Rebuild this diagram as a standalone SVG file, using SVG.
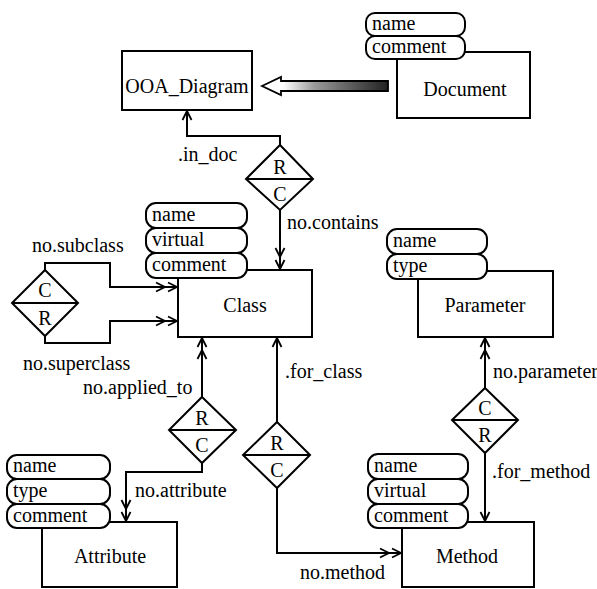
<svg xmlns="http://www.w3.org/2000/svg" width="597" height="589" viewBox="0 0 597 589">
<style>
.box{fill:#fff;stroke:#000;stroke-width:2}
.pill{fill:#fff;stroke:#000;stroke-width:2}
.dia{fill:#fff;stroke:#000;stroke-width:2}
.t{font-family:"Liberation Serif","Times New Roman",serif;font-size:20px;fill:#000}
.m{text-anchor:middle}
.con{fill:none;stroke:#000;stroke-width:2}
</style>
<defs>
<marker id="a1" markerUnits="userSpaceOnUse" markerWidth="12" markerHeight="12" viewBox="-11 -6 12 12" refX="0" refY="0" orient="auto">
<path d="M-9,-4.5 L0,0 L-9,4.5" fill="none" stroke="#000" stroke-width="1.8"/>
</marker>
<marker id="a2" markerUnits="userSpaceOnUse" markerWidth="24" markerHeight="12" viewBox="-23 -6 24 12" refX="0" refY="0" orient="auto">
<path d="M-9,-4.5 L0,0 L-9,4.5 M-21,-4.5 L-12,0 L-21,4.5" fill="none" stroke="#000" stroke-width="1.8"/>
</marker>
<linearGradient id="sh" x1="0" y1="0" x2="1" y2="0">
<stop offset="0" stop-color="#fff"/>
<stop offset="0.3" stop-color="#999"/>
<stop offset="1" stop-color="#222"/>
</linearGradient>
</defs>

<g id="connectors">
<path class="con" d="M280,145 V136 H187 V111" marker-end="url(#a1)"/>
<path class="con" d="M280,210 V269" marker-end="url(#a2)"/>
<path class="con" d="M45,270 V263 H110 V287 H177" marker-end="url(#a2)"/>
<path class="con" d="M45,336 V343 H110 V321 H177" marker-end="url(#a2)"/>
<path class="con" d="M202,397 V338" marker-end="url(#a2)"/>
<path class="con" d="M202,463 V472 H126 V521" marker-end="url(#a2)"/>
<path class="con" d="M277,422 V338" marker-end="url(#a1)"/>
<path class="con" d="M277,488 V553 H401" marker-end="url(#a2)"/>
<path class="con" d="M485,388 V338" marker-end="url(#a2)"/>
<path class="con" d="M485,453 V521" marker-end="url(#a1)"/>
<g id="inherit-arrow">
<rect x="283" y="81" width="105" height="10" fill="url(#sh)"/>
<polygon points="262,86 281,77 281,81 388,81 388,91 281,91 281,95" fill="none" stroke="#000" stroke-width="1.8"/>
</g>
</g>

<g id="OOA_Diagram">
<rect class="box" x="122" y="51" width="130" height="59"/>
<text class="t m" x="187" y="93">OOA_Diagram</text>
</g>

<g id="Document">
<rect class="box" x="397" y="52" width="133" height="66"/>
<rect class="pill" x="366" y="13" width="99" height="23" rx="9"/>
<rect class="pill" x="366" y="36" width="99" height="23" rx="9"/>
<text class="t" x="372" y="30">name</text>
<text class="t" x="372" y="53">comment</text>
<text class="t m" x="465" y="96">Document</text>
</g>

<g id="Class">
<rect class="box" x="178" y="270" width="134" height="67"/>
<rect class="pill" x="146" y="203" width="101" height="25" rx="10"/>
<rect class="pill" x="146" y="228" width="101" height="25" rx="10"/>
<rect class="pill" x="146" y="253" width="101" height="25" rx="10"/>
<text class="t" x="152" y="221">name</text>
<text class="t" x="152" y="246">virtual</text>
<text class="t" x="152" y="271">comment</text>
<text class="t m" x="245" y="312">Class</text>
</g>

<g id="Parameter">
<rect class="box" x="418" y="271" width="135" height="66"/>
<rect class="pill" x="387" y="229" width="100" height="25" rx="10"/>
<rect class="pill" x="387" y="254" width="100" height="25" rx="10"/>
<text class="t" x="393" y="247">name</text>
<text class="t" x="393" y="272">type</text>
<text class="t m" x="485" y="312">Parameter</text>
</g>

<g id="Attribute">
<rect class="box" x="42" y="522" width="135" height="65"/>
<rect class="pill" x="7" y="455" width="103" height="24" rx="10"/>
<rect class="pill" x="7" y="479" width="103" height="25" rx="10"/>
<rect class="pill" x="7" y="504" width="103" height="24" rx="10"/>
<text class="t" x="13" y="472">name</text>
<text class="t" x="13" y="497">type</text>
<text class="t" x="13" y="522">comment</text>
<text class="t m" x="110" y="563">Attribute</text>
</g>

<g id="Method">
<rect class="box" x="402" y="522" width="132" height="65"/>
<rect class="pill" x="368" y="454" width="100" height="25" rx="10"/>
<rect class="pill" x="368" y="479" width="100" height="25" rx="10"/>
<rect class="pill" x="368" y="504" width="100" height="24" rx="10"/>
<text class="t" x="374" y="472">name</text>
<text class="t" x="374" y="497">virtual</text>
<text class="t" x="374" y="522">comment</text>
<text class="t m" x="467" y="563">Method</text>
</g>

<g id="rel_in_doc">
<polygon class="dia" points="280,145 313,179 280,210 246,179"/>
<line x1="246" y1="179" x2="313" y2="179" stroke="#000" stroke-width="2"/>
<text class="t m" x="280" y="174">R</text>
<text class="t m" x="280" y="201">C</text>
</g>

<g id="rel_subclass">
<polygon class="dia" points="45,270 78,303 45,336 12,303"/>
<line x1="12" y1="303" x2="78" y2="303" stroke="#000" stroke-width="2"/>
<text class="t m" x="45" y="297">C</text>
<text class="t m" x="45" y="325">R</text>
</g>

<g id="rel_applied_to">
<polygon class="dia" points="202,397 236,430 202,463 169,430"/>
<line x1="169" y1="430" x2="236" y2="430" stroke="#000" stroke-width="2"/>
<text class="t m" x="202" y="425">R</text>
<text class="t m" x="202" y="452">C</text>
</g>

<g id="rel_for_class">
<polygon class="dia" points="277,422 310,455 277,488 243,455"/>
<line x1="243" y1="455" x2="310" y2="455" stroke="#000" stroke-width="2"/>
<text class="t m" x="277" y="450">R</text>
<text class="t m" x="277" y="477">C</text>
</g>

<g id="rel_parameter">
<polygon class="dia" points="485,388 518,420 485,453 452,420"/>
<line x1="452" y1="420" x2="518" y2="420" stroke="#000" stroke-width="2"/>
<text class="t m" x="485" y="415">C</text>
<text class="t m" x="485" y="442">R</text>
</g>

<g id="labels">
<text class="t" x="178" y="161">.in_doc</text>
<text class="t" x="287" y="229">no.contains</text>
<text class="t" x="32" y="252">no.subclass</text>
<text class="t" x="23" y="370">no.superclass</text>
<text class="t" x="83" y="394">no.applied_to</text>
<text class="t" x="135" y="497">no.attribute</text>
<text class="t" x="285" y="378">.for_class</text>
<text class="t" x="493" y="378">no.parameter</text>
<text class="t" x="492" y="478">.for_method</text>
<text class="t" x="300" y="579">no.method</text>
</g>
</svg>
